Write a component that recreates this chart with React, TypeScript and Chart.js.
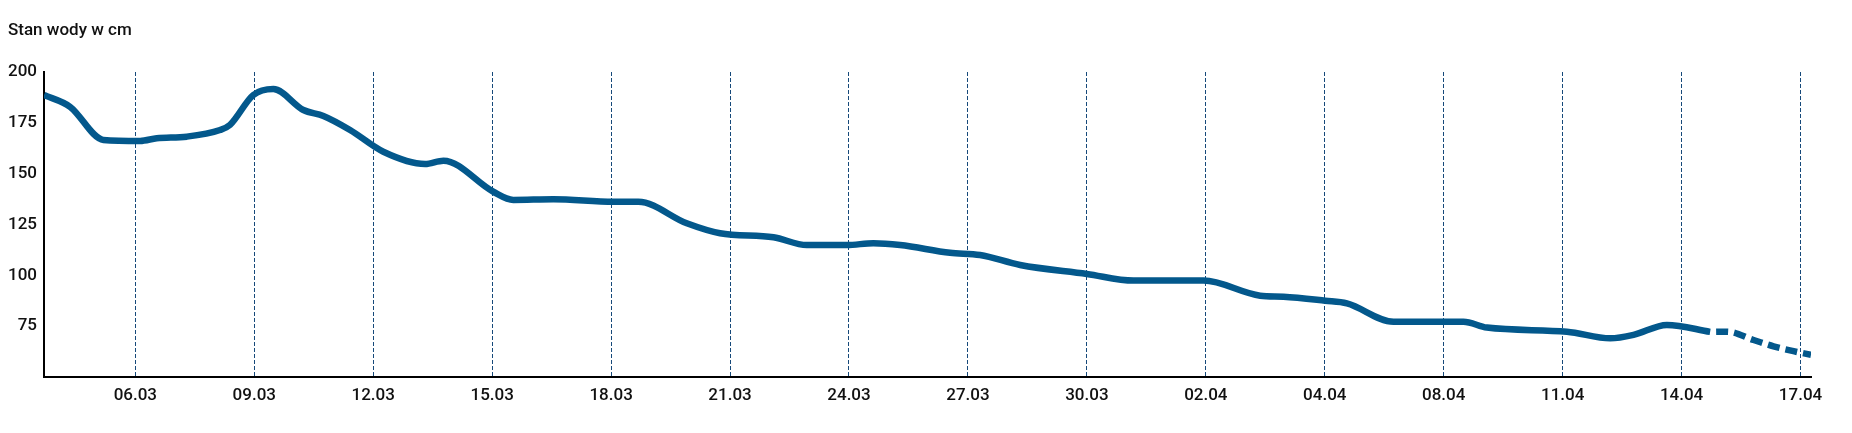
import React, { useEffect, useRef } from "react";
import { Chart, registerables } from "chart.js";

Chart.register(...registerables);

const chartTitle = "Stan wody w cm";

// x positions expressed in tick-interval units (0 = 06.03, 14 = 17.04)
const xTickLabels = [
  "06.03", "09.03", "12.03", "15.03", "18.03", "21.03", "24.03", "27.03",
  "30.03", "02.04", "04.04", "08.04", "11.04", "14.04", "17.04",
];

const observedPos = [
  -0.768, -0.549, -0.269, 0.04, 0.18, 0.432, 0.712, 0.796, 0.992, 1.16,
  1.413, 1.581, 1.805, 2.085, 2.436, 2.59, 3.01, 3.178, 3.515, 4.019,
  4.229, 4.636, 4.916, 5.365, 5.645, 5.982, 6.205, 6.43, 6.85, 7.102,
  7.439, 8.0, 8.392, 8.98, 9.457, 9.653, 10.004, 10.186, 10.578, 11.166,
  11.363, 12.036, 12.4, 12.596, 12.876, 13.24,
];
const observedLevel = [
  188.7, 182.9, 166.6, 166.1, 167.4, 168.2, 171.5, 174, 188.7, 191.6,
  181.3, 178.4, 171.5, 160.8, 154.8, 156.4, 141.1, 137.1, 137.4, 136.2,
  136.2, 125.6, 120.7, 118.7, 114.9, 114.9, 115.8, 114.9, 111.1, 110,
  105.1, 100.7, 97.4, 97.4, 90, 89.5, 87.5, 86.2, 77.2, 77.2,
  74.3, 72.3, 69, 70.7, 75.6, 72.2,
];

const forecastPos = [13.24, 13.381, 13.605, 13.773, 13.941, 14.088];
const forecastLevel = [72.2, 72.3, 68.2, 65.1, 62.7, 60.9];

const yMin = 50;
const yMax = 200;
const yStep = 25;

const LINE_COLOR = "#03588c";
const GRID_COLOR = "#16497a";
const FONT = "Roboto, 'Liberation Sans', sans-serif";

export default function App() {
  const canvasRef = useRef<HTMLCanvasElement | null>(null);

  useEffect(() => {
    const canvas = canvasRef.current;
    if (!canvas) return;
    const observed = observedPos.map((x, i) => ({ x, y: observedLevel[i] }));
    const forecast = forecastPos.map((x, i) => ({ x, y: forecastLevel[i] }));

    const chart = new Chart(canvas, {
      type: "line",
      data: {
        datasets: [
          {
            data: observed,
            borderColor: LINE_COLOR,
            borderWidth: 6.5,
            pointRadius: 0,
            cubicInterpolationMode: "monotone",
            borderJoinStyle: "round",
            fill: false,
          },
          {
            data: forecast,
            borderColor: LINE_COLOR,
            borderWidth: 6.5,
            borderDash: [12, 6],
            borderDashOffset: 12,
            pointRadius: 0,
            cubicInterpolationMode: "monotone",
            fill: false,
          },
        ],
      },
      options: {
        animation: false,
        responsive: false,
        maintainAspectRatio: false,
        layout: { padding: { left: 0, right: 33, top: 0, bottom: 0 } },
        plugins: {
          legend: { display: false },
          tooltip: { enabled: false },
          title: {
            display: true,
            text: chartTitle,
            align: "start",
            color: "#111",
            font: { family: FONT, size: 17, weight: "500" },
            padding: { top: 13, bottom: 30.6 },
          },
        },
        scales: {
          x: {
            type: "linear",
            min: observedPos[0],
            max: forecastPos[forecastPos.length - 1],
            afterBuildTicks: (axis: any) => {
              axis.ticks = xTickLabels.map((_, i) => ({ value: i }));
            },
            afterFit: (axis: any) => {
              axis.height = 48;
            },
            ticks: {
              autoSkip: false,
              maxRotation: 0,
              padding: 8.5,
              color: "#111",
              font: { family: FONT, size: 17, weight: "500" },
              callback: (v: any) => {
                const n = Number(v);
                return Number.isInteger(n) ? xTickLabels[n] ?? "" : "";
              },
            },
            grid: {
              display: true,
              color: GRID_COLOR,
              lineWidth: 1,
              drawTicks: false,
            },
            border: { display: true, color: "#000", width: 2, dash: [4, 2] },
          },
          y: {
            min: yMin,
            max: yMax,
            afterFit: (axis: any) => {
              axis.width = 36;
            },
            ticks: {
              stepSize: yStep,
              padding: 7,
              color: "#111",
              font: { family: FONT, size: 17, weight: "500" },
              callback: (v: any) => (Number(v) === yMin ? "" : String(v)),
            },
            grid: { display: false, drawTicks: false },
            border: { display: true, color: "#000", width: 2 },
          },
        },
      },
    });
    return () => chart.destroy();
  }, []);

  return (
    <div style={{ width: 1836, height: 417 }}>
      <canvas ref={canvasRef} width={1836} height={417} style={{ display: "block" }} />
    </div>
  );
}
